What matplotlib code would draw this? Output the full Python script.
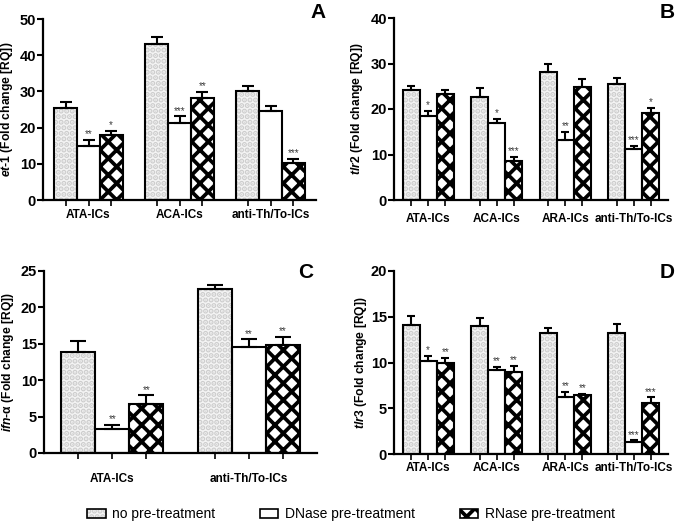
import matplotlib
matplotlib.use("Agg")
import matplotlib.pyplot as plt
from matplotlib.patches import Patch
from matplotlib.legend_handler import HandlerTuple
import numpy as np

plt.rcParams['font.family'] = ['Liberation Sans', 'DejaVu Sans']
plt.rcParams['font.weight'] = 'bold'
plt.rcParams['mathtext.fontset'] = 'custom'
plt.rcParams['mathtext.it'] = 'Liberation Sans:italic:bold'
plt.rcParams['mathtext.rm'] = 'Liberation Sans:bold'
plt.rcParams['mathtext.bf'] = 'Liberation Sans:bold'
plt.rcParams['hatch.linewidth'] = 2.7

treatments = ['no pre-treatment', 'DNase pre-treatment', 'RNase pre-treatment']

# Panel A: et-1
a_groups = ['ATA-ICs', 'ACA-ICs', 'anti-Th/To-ICs']
a_means = [[25.4, 15.0, 18.0], [43.2, 21.2, 28.3], [30.0, 24.6, 10.3]]
a_errs = [[1.6, 1.5, 1.1], [1.8, 1.9, 1.6], [1.5, 1.4, 1.0]]
a_stars = [['', '**', '*'], ['', '***', '**'], ['', '', '***']]

# Panel B: tlr2
b_groups = ['ATA-ICs', 'ACA-ICs', 'ARA-ICs', 'anti-Th/To-ICs']
b_means = [[24.1, 18.4, 23.3], [22.6, 16.9, 8.5], [28.1, 13.1, 24.9], [25.4, 11.1, 19.1]]
b_errs = [[1.0, 1.2, 0.9], [2.0, 1.0, 1.0], [1.8, 1.8, 1.7], [1.5, 0.8, 1.1]]
b_stars = [['', '*', ''], ['', '*', '***'], ['', '**', ''], ['', '***', '*']]

# Panel C: ifn-alpha
c_groups = ['ATA-ICs', 'anti-Th/To-ICs']
c_means = [[13.9, 3.25, 6.7], [22.5, 14.6, 14.9]]
c_errs = [[1.5, 0.6, 1.2], [0.6, 1.0, 1.1]]
c_stars = [['', '**', '**'], ['', '**', '**']]

# Panel D: tlr3
d_groups = ['ATA-ICs', 'ACA-ICs', 'ARA-ICs', 'anti-Th/To-ICs']
d_means = [[14.1, 10.2, 10.0], [14.0, 9.15, 8.96], [13.26, 6.27, 6.5], [13.26, 1.35, 5.54]]
d_errs = [[1.0, 0.5, 0.5], [0.9, 0.35, 0.7], [0.55, 0.5, 0.06], [0.95, 0.15, 0.65]]
d_stars = [['', '*', '**'], ['', '**', '**'], ['', '**', '**'], ['', '***', '***']]

# bar styles: (facecolor, hatch colour, hatch)
styles = [('#f4f4f4', '#cdcdcd', '...'),
          ('white', 'white', None),
          ('white', 'black', 'xx')]
legend_hatch = ['...', None, 'xx']


def make_bar(ax, x, h, style):
    fc, hc, hatch = style
    ax.bar(x, h, width=1.0, facecolor=fc, edgecolor=hc,
           linewidth=0, hatch=hatch, zorder=2)
    ax.bar(x, h, width=1.0, fill=False, edgecolor='black', linewidth=1.5, zorder=3)


def draw_panel(ax, groups, means, errs, stars, ymax, ystep, ylabel, letter,
               letter_xy, cat_off, ylab_x, capsize):
    means = np.array(means)
    errs = np.array(errs)
    n = len(groups)
    for i in range(3):
        x = 4 * np.arange(n) + i - 1
        make_bar(ax, x, means[:, i], styles[i])
        ax.errorbar(x, means[:, i], yerr=[np.zeros(n), errs[:, i]], fmt='none',
                    ecolor='black', elinewidth=1.5, capsize=capsize,
                    capthick=1.5, zorder=4)
        for g in range(n):
            if stars[g][i]:
                ax.annotate(stars[g][i], (x[g], means[g, i] + errs[g, i]),
                            xytext=(0, 0.5), textcoords='offset points',
                            ha='center', va='bottom', fontsize=7,
                            fontweight='normal', color='#3a3a3a')
    ax.set_xlim(-2, 4 * n - 2)
    ax.set_ylim(0, ymax)
    ax.set_yticks(np.arange(0, ymax + 0.1, ystep))
    ax.set_xticks(np.concatenate([4 * np.arange(n) + k for k in (-1, 0, 1)]))
    ax.set_xticklabels([])
    ax.tick_params(axis='y', labelsize=10.5, width=1.5, length=4, pad=1)
    ax.tick_params(axis='x', width=1.2, length=4)
    for side in ('top', 'right'):
        ax.spines[side].set_visible(False)
    for side in ('left', 'bottom'):
        ax.spines[side].set_linewidth(1.6)
    for g, name in enumerate(groups):
        ax.text(4 * g, cat_off, name, transform=ax.get_xaxis_transform(),
                ha='center', va='center', fontsize=8.5, fontweight='bold')
    ax.set_ylabel(ylabel, fontsize=8.7, fontweight='bold')
    ax.yaxis.set_label_coords(ylab_x, 0.5)
    ax.figure.text(letter_xy[0] / 685, 1 - letter_xy[1] / 522, letter,
                   fontsize=15, fontweight='bold', ha='center', va='center')


fig = plt.figure(figsize=(6.85, 5.22), dpi=100)
ax_a = fig.add_axes([43 / 685, 1 - 200 / 522, 273 / 685, 181 / 522])
ax_b = fig.add_axes([394 / 685, 1 - 200 / 522, 274 / 685, 182 / 522])
ax_c = fig.add_axes([44 / 685, 1 - 453 / 522, 273 / 685, 182 / 522])
ax_d = fig.add_axes([394 / 685, 1 - 454 / 522, 274 / 685, 183 / 522])

draw_panel(ax_a, a_groups, a_means, a_errs, a_stars, 50, 10,
           r'$\mathit{et}$-$\mathit{1}$ (Fold change [RQ])', 'A', (318, 13),
           -0.083, -0.103, 4)
draw_panel(ax_b, b_groups, b_means, b_errs, b_stars, 40, 10,
           r'$\mathit{tlr2}$ (Fold change [RQ])', 'B', (667, 13),
           -0.104, -0.106, 3)
draw_panel(ax_c, c_groups, c_means, c_errs, c_stars, 25, 5,
           r'$\mathit{ifn}$-α (Fold change [RQ])', 'C', (306, 273),
           -0.143, -0.103, 6)
draw_panel(ax_d, d_groups, d_means, d_errs, d_stars, 20, 5,
           r'$\mathit{tlr3}$ (Fold change [RQ])', 'D', (667, 272),
           -0.075, -0.09, 3)

handles = []
for (fc, hc, hatch), lh in zip(styles, legend_hatch):
    p1 = Patch(facecolor=fc, edgecolor=hc, hatch=lh, linewidth=0)
    p2 = Patch(fill=False, edgecolor='black', linewidth=1.2)
    handles.append((p1, p2))

fig.legend(handles, treatments, handler_map={tuple: HandlerTuple(ndivide=1, pad=0)},
           loc='center', bbox_to_anchor=(351 / 685, 1 - 514 / 522), ncol=3,
           frameon=False, prop={'weight': 'normal', 'size': 10},
           handlelength=1.3, handleheight=0.6, handletextpad=0.5,
           columnspacing=3.2)

fig.savefig('out.png', dpi=100)
